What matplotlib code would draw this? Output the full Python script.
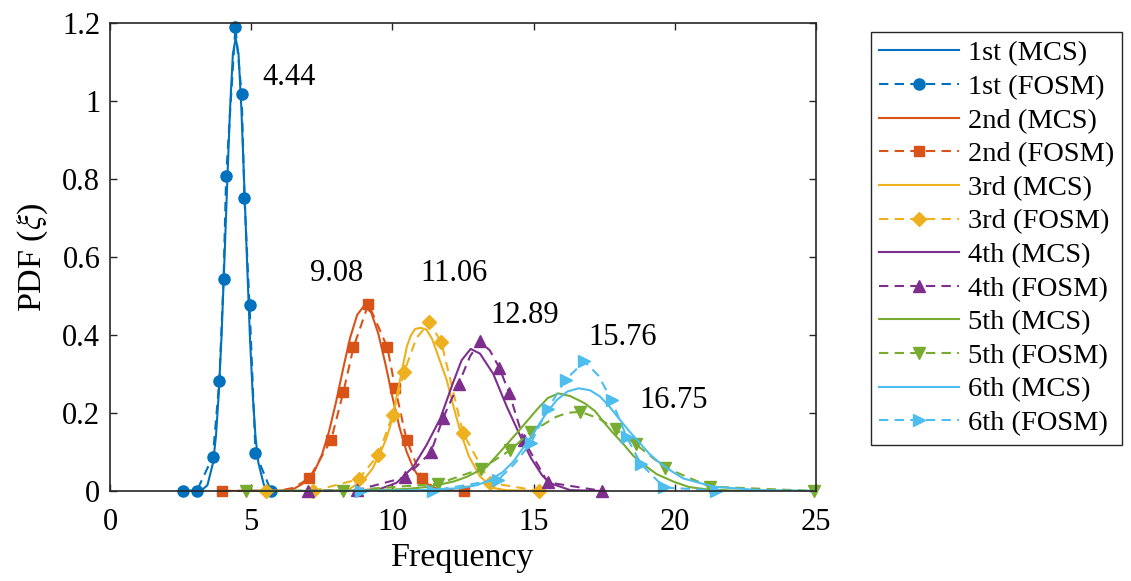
#!/usr/bin/env python3
"""PDF of the first six natural frequencies: MCS (solid) vs FOSM (dashed, markers)."""

import matplotlib
matplotlib.use('Agg')
import matplotlib.pyplot as plt

# ---------------------------------------------------------------------------
# Data
# ---------------------------------------------------------------------------
mcs1_x = [2.60, 3.25, 3.45, 3.65, 3.75, 3.85, 3.95, 4.05, 4.15, 4.25, 4.35, 4.45,
          4.55, 4.65, 4.75, 4.85, 4.95, 5.05, 5.15, 5.25, 5.45, 5.65, 5.70]
mcs1_y = [0.0, 0.002, 0.015, 0.073, 0.14, 0.25, 0.40, 0.59, 0.79, 0.98, 1.12, 1.16,
          1.12, 0.98, 0.79, 0.59, 0.40, 0.25, 0.14, 0.073, 0.015, 0.002, 0.0]
fosm1_x = [2.60, 3.07, 3.64, 3.87, 4.02, 4.11, 4.44, 4.66, 4.76, 4.94, 5.15, 5.70]
fosm1_y = [0.0, 0.0, 0.088, 0.282, 0.544, 0.806, 1.19, 1.017, 0.75, 0.476, 0.098, 0.0]
fosm1_mark = list(range(12))

mcs2_x = [3.95, 5.5, 6.0, 6.5, 7.0, 7.25, 7.5, 7.75, 8.0, 8.25, 8.5, 8.75, 9.0, 9.25,
          9.5, 9.75, 10.0, 10.25, 10.5, 10.75, 11.0, 11.5, 12.0, 12.5]
mcs2_y = [0.0, 0.0001, 0.0007, 0.005, 0.026, 0.052, 0.092, 0.151, 0.227, 0.312, 0.392,
          0.451, 0.475, 0.457, 0.403, 0.326, 0.241, 0.163, 0.101, 0.057, 0.029, 0.006,
          0.001, 0.0]
fosm2_x = [3.95, 6.0, 6.5, 7.06, 7.83, 8.26, 8.62, 9.15, 9.82, 10.10, 10.50, 11.04,
           11.5, 12.52]
fosm2_y = [0.0, 0.001, 0.008, 0.033, 0.131, 0.253, 0.368, 0.479, 0.368, 0.263, 0.131,
           0.033, 0.007, 0.0]
fosm2_mark = [0, 3, 4, 5, 6, 7, 8, 9, 10, 11, 13]

mcs3_x = [5.5, 7.0, 8.0, 8.5, 9.0, 9.3, 9.56, 9.75, 9.92, 10.1, 10.27, 10.51, 10.65,
          10.8, 11.0, 11.21, 11.4, 11.6, 11.92, 12.15, 12.39, 12.7, 13.1, 13.56, 14.0,
          15.2]
mcs3_y = [0.0, 0.0, 0.001, 0.006, 0.03, 0.058, 0.097, 0.128, 0.165, 0.225, 0.285, 0.37,
          0.398, 0.415, 0.418, 0.413, 0.39, 0.35, 0.285, 0.22, 0.156, 0.09, 0.037, 0.008,
          0.002, 0.0]
fosm3_x = [5.51, 7.20, 8.80, 9.50, 10.01, 10.42, 10.85, 11.31, 11.73, 12.10, 12.50,
           13.46, 15.19]
fosm3_y = [0.0, 0.0, 0.03, 0.093, 0.195, 0.306, 0.392, 0.432, 0.381, 0.27, 0.148,
           0.021, 0.0]
fosm3_mark = [0, 1, 2, 3, 4, 5, 7, 8, 10, 11, 12]

mcs4_x = [7.0, 8.5, 9.56, 10.15, 10.74, 11.21, 11.69, 12.16, 12.45, 12.77, 13.1, 13.57,
          14.05, 14.52, 14.9, 15.3, 15.58, 16.3, 17.43]
mcs4_y = [0.0, 0.0, 0.005, 0.021, 0.062, 0.118, 0.185, 0.28, 0.335, 0.364, 0.352, 0.30,
          0.216, 0.142, 0.085, 0.04, 0.02, 0.002, 0.0]
fosm4_x = [7.00, 8.73, 10.46, 11.36, 11.80, 12.34, 12.75, 13.10, 13.45, 13.79, 14.14,
           14.65, 15.50, 17.43]
fosm4_y = [0.0, 0.002, 0.035, 0.099, 0.188, 0.274, 0.345, 0.383, 0.36, 0.315, 0.25,
           0.13, 0.022, 0.0]
fosm4_mark = [0, 1, 2, 3, 4, 5, 7, 9, 10, 11, 12, 13]

mcs5_x = [4.8, 7.0, 9.0, 10.5, 11.33, 12.16, 12.63, 13.34, 13.69, 14.4, 15.11, 15.5,
          15.88, 16.3, 16.8, 17.17, 17.5, 17.82, 18.18, 18.53, 19.0, 19.36, 19.95, 20.5,
          21.13, 22.0, 24.93]
mcs5_y = [0.0, 0.0, 0.001, 0.005, 0.011, 0.024, 0.036, 0.062, 0.09, 0.148, 0.208, 0.238,
          0.25, 0.243, 0.225, 0.205, 0.175, 0.148, 0.12, 0.09, 0.062, 0.043, 0.024, 0.01,
          0.004, 0.001, 0.0]
fosm5_x = [4.80, 8.26, 11.60, 13.15, 14.18, 14.90, 15.30, 15.80, 16.20, 16.65, 17.30,
           17.91, 18.61, 19.65, 21.25, 24.93]
fosm5_y = [0.0, 0.001, 0.018, 0.057, 0.105, 0.152, 0.168, 0.19, 0.2, 0.203, 0.186,
           0.158, 0.12, 0.06, 0.011, 0.0]
fosm5_mark = [0, 1, 2, 3, 4, 5, 9, 11, 12, 13, 14, 15]

mcs6_x = [5.5, 9.0, 11.0, 12.39, 13.0, 13.46, 13.9, 14.28, 14.87, 15.46, 15.82, 16.2,
          16.6, 17.0, 17.35, 17.7, 18.06, 18.4, 18.77, 19.1, 19.48, 19.9, 20.3, 21.36,
          23.0, 25.0]
mcs6_y = [0.0, 0.0, 0.002, 0.007, 0.015, 0.028, 0.048, 0.075, 0.135, 0.2, 0.233, 0.255,
          0.263, 0.258, 0.242, 0.215, 0.182, 0.152, 0.122, 0.095, 0.071, 0.05, 0.032, 0.011,
          0.002, 0.0]
fosm6_x = [8.90, 11.45, 13.75, 14.30, 14.90, 15.50, 16.13, 16.80, 17.30, 17.76, 18.29,
           18.80, 19.62, 21.45]
fosm6_y = [0.0, 0.001, 0.029, 0.068, 0.122, 0.21, 0.285, 0.332, 0.295, 0.233, 0.139,
           0.069, 0.009, 0.001]
fosm6_mark = [0, 1, 2, 4, 5, 6, 7, 9, 10, 11, 12, 13]

mode_names = ['1st', '2nd', '3rd', '4th', '5th', '6th']
mean_labels = ['4.44', '9.08', '11.06', '12.89', '15.76', '16.75']
label_x = [5.41, 7.08, 10.98, 13.46, 16.93, 18.73]
label_y = [1.06, 0.556, 0.556, 0.449, 0.392, 0.233]

mcs = [(mcs1_x, mcs1_y), (mcs2_x, mcs2_y), (mcs3_x, mcs3_y),
       (mcs4_x, mcs4_y), (mcs5_x, mcs5_y), (mcs6_x, mcs6_y)]
fosm = [(fosm1_x, fosm1_y, fosm1_mark), (fosm2_x, fosm2_y, fosm2_mark),
        (fosm3_x, fosm3_y, fosm3_mark), (fosm4_x, fosm4_y, fosm4_mark),
        (fosm5_x, fosm5_y, fosm5_mark), (fosm6_x, fosm6_y, fosm6_mark)]

# MATLAB default colour order and the marker used for each mode
colors = ['#0072BD', '#D95319', '#EDB120', '#7E2F8E', '#77AC30', '#4DBEEE']
markers = ['o', 's', 'D', '^', 'v', '>']
msizes = [8, 7.5, 7.5, 8.5, 8.5, 8.5]

# ---------------------------------------------------------------------------
# Style
# ---------------------------------------------------------------------------
plt.rcParams['font.family'] = ['Liberation Serif', 'DejaVu Serif']
plt.rcParams['mathtext.fontset'] = 'stix'

fig = plt.figure(figsize=(11.31, 5.81), dpi=100)
ax = fig.add_axes([0.0973, 0.155, 0.6242, 0.806])

for i in range(6):
    c = colors[i]
    ax.plot(mcs[i][0], mcs[i][1], '-', color=c, lw=1.5,
            label=f'{mode_names[i]} (MCS)')
    fx, fy, fm = fosm[i]
    ax.plot(fx, fy, linestyle=(0, (4.5, 3)), color=c, lw=1.5,
            marker=markers[i], markevery=fm, ms=msizes[i], mfc=c, mec=c,
            clip_on=False, label=f'{mode_names[i]} (FOSM)')

for txt, x, y in zip(mean_labels, label_x, label_y):
    ax.text(x, y, txt, ha='left', va='center', fontsize=22)

ax.set_xlim(0, 25)
ax.set_ylim(0, 1.2)
ax.set_xticks([0, 5, 10, 15, 20, 25])
ax.set_yticks([0, 0.2, 0.4, 0.6, 0.8, 1.0, 1.2])
ax.set_yticklabels(['0', '0.2', '0.4', '0.6', '0.8', '1', '1.2'])
ax.tick_params(direction='in', top=True, right=True, length=5, width=1,
               color='#262626', labelsize=22)
ax.tick_params(axis='y', pad=7)
ax.tick_params(axis='x', pad=12)
for sp in ax.spines.values():
    sp.set_color('#262626')
    sp.set_linewidth(1.2)

ax.set_xlabel('Frequency', fontsize=24.5, labelpad=4)
ax.set_ylabel(r'PDF ($\xi$)', fontsize=24.5, labelpad=8.5)

leg = ax.legend(loc='upper left', bbox_to_anchor=(0.770, 0.945),
                bbox_transform=fig.transFigure, fontsize=20.5, frameon=True,
                fancybox=False, edgecolor='#262626', framealpha=1,
                handlelength=2.8, handletextpad=0.3, labelspacing=0.27,
                borderpad=0.3, borderaxespad=0, numpoints=1)
leg.get_frame().set_linewidth(1.0)

fig.savefig('out.png', dpi=100)
